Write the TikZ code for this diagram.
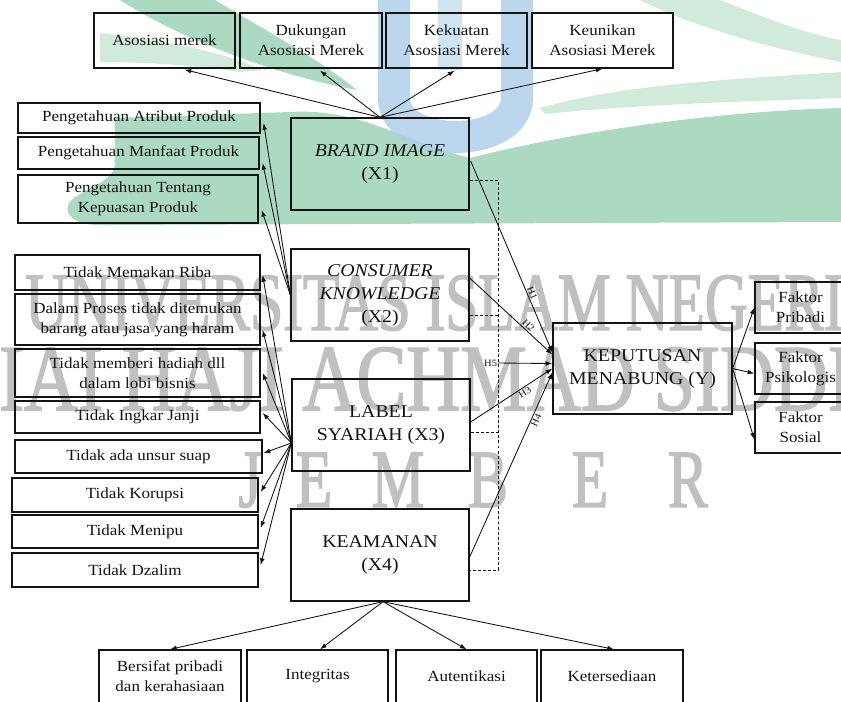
\documentclass[tikz,border=0pt]{standalone}
\usepackage{fontspec}
\setmainfont{Liberation Serif}[FakeStretch=1.1]
\newfontfamily\wmA{Liberation Serif}[FakeStretch=0.72,FakeBold=1.6]
\newfontfamily\wmB{Liberation Serif}[FakeStretch=0.79,FakeBold=1.6]
\usetikzlibrary{calc,arrows.meta}
\definecolor{wmgray}{RGB}{192,192,192}
\definecolor{lgreen}{RGB}{172,217,193}
\definecolor{lgreen2}{RGB}{208,234,219}
\definecolor{lblue}{RGB}{172,206,233}
\definecolor{ink}{RGB}{20,20,20}
\begin{document}
\begin{tikzpicture}[x=0.75pt,y=-0.75pt,
  box/.style={draw=ink, line width=1pt, inner sep=0pt, align=center, text=ink,
    font=\fontsize{11.6pt}{15pt}\selectfont},
  tbox/.style={box, font=\fontsize{13.5pt}{17.25pt}\selectfont},
  wh/.style 2 args={minimum width=#1*0.75pt, minimum height=#2*0.75pt},
  arr/.style={draw=ink, line width=0.65pt, -{Latex[length=5pt,width=3.6pt]}},
  dsh/.style={draw=ink, line width=0.75pt, dash pattern=on 2.2pt off 1.6pt},
  hl/.style={font=\fontsize{7.2pt}{8pt}\selectfont, text=ink, inner sep=1pt},
  wm/.style={text=wmgray, inner sep=0pt}
]
\useasboundingbox (0,0) rectangle (841,701);
\clip (0,0) rectangle (841,701);
\fill[white] (0,0) rectangle (841,701);

% ---- watermark logo (approximate) ----
\fill[lgreen2] (100,33) .. controls (160,40) and (220,50) .. (262,70) -- (240,72) .. controls (190,64) and (130,62) .. (100,62) -- cycle;
\fill[lgreen] (120,0) -- (215,0) .. controls (265,30) and (320,60) .. (357,90) .. controls (290,78) and (190,45) .. (120,0) -- cycle;
\fill[lgreen2] (640,0) -- (720,0) .. controls (770,20) and (810,35) .. (841,40) -- (841,62) .. controls (780,50) and (700,30) .. (640,0) -- cycle;
\fill[lgreen2] (540,108) .. controls (620,85) and (720,80) .. (841,72) -- (841,98) .. controls (720,102) and (620,106) .. (545,114) -- cycle;
\fill[lgreen] (115,118) -- (290,112) .. controls (360,108) and (400,140) .. (470,158)
  .. controls (560,135) and (700,112) .. (841,108) -- (841,222) -- (100,225)
  .. controls (75,225) and (65,215) .. (68,205) .. controls (75,190) and (112,185) .. (115,165) -- cycle;
\draw[lblue, opacity=0.8, line width=24pt] (394,0) -- (394,98) .. controls (394,150) and (517,150) .. (517,98) -- (517,0);
\draw[lblue, opacity=0.55, line width=18pt] (450,0) -- (450,70);

% ---- watermark text ----
\node[wm, anchor=base west, font=\wmA\fontsize{62pt}{62pt}\selectfont] (wmrow1) at (25,330) {UNIVERSITAS ISLAM NEGERI};
\node[wm, anchor=base west, font=\wmB\fontsize{71pt}{71pt}\selectfont] (wmrow2) at (-55,410) {KIAI HAJI ACHMAD SIDDIQ};
\begin{scope}[every node/.style={wm, anchor=base, font=\wmA\fontsize{62pt}{62pt}\selectfont}]
\node (wmj) at (250,507) {J};
\node (wme) at (314,507) {E};
\node (wmm) at (398,507) {M};
\node (wmb) at (488,507) {B};
\node (wme2) at (590,507) {E};
\node (wmr) at (688,507) {R};
\end{scope}

% ---- top boxes ----
\node[box,wh={141}{55}] (am) at (164.5,40.5) {Asosiasi merek};
\node[box,wh={142}{55}] (dam) at (311,40.5) {Dukungan\\Asosiasi Merek};
\node[box,wh={141}{55}] (kam) at (456.5,40.5) {Kekuatan\\Asosiasi Merek};
\node[box,wh={141}{55}] (uam) at (602.5,40.5) {Keunikan\\Asosiasi Merek};

% ---- main variable boxes ----
\node[tbox,wh={178}{92}] (BI) at (380,164) {\textit{BRAND IMAGE}\\(X1)};
\node[tbox,wh={178}{92}] (CK) at (380,295) {\textit{CONSUMER}\\\textit{KNOWLEDGE}\\(X2)};
\node[tbox,wh={178}{92}] (LS) at (381,425) {LABEL\\SYARIAH (X3)};
\node[tbox,wh={178}{92}] (KE) at (380,555) {KEAMANAN\\(X4)};
\node[tbox,wh={179}{91}] (KM) at (642.5,368.5) {KEPUTUSAN\\MENABUNG (Y)};

% ---- consumer knowledge indicators ----
\node[box,wh={242}{30}] (pap) at (139,118) {Pengetahuan Atribut Produk};
\node[box,wh={241}{32}] (pmp) at (138.5,153) {Pengetahuan Manfaat Produk};
\node[box,wh={240}{48}] (ptk) at (138,199) {Pengetahuan Tentang\\Kepuasan Produk};

% ---- label syariah indicators ----
\node[box,wh={245}{35}] (riba) at (137.5,272.5) {Tidak Memakan Riba};
\node[box,wh={245}{51}] (dpt) at (137.5,319.5) {Dalam Proses tidak ditemukan\\barang atau jasa yang haram};
\node[box,wh={245}{48}] (hdh) at (137.5,373) {Tidak memberi hadiah dll\\dalam lobi bisnis};
\node[box,wh={245}{32}] (ijj) at (137.5,417) {Tidak Ingkar Janji};
\node[box,wh={247}{33}] (sap) at (138.5,456.5) {Tidak ada unsur suap};
\node[box,wh={246}{34}] (krp) at (135,495) {Tidak Korupsi};
\node[box,wh={246}{33}] (mnp) at (135,531.5) {Tidak Menipu};
\node[box,wh={246}{34}] (dzl) at (135,570) {Tidak Dzalim};

% ---- keputusan indicators ----
\node[box,wh={91}{51}] (fp) at (800.5,307.5) {Faktor\\Pribadi};
\node[box,wh={91}{51}] (fps) at (800.5,368.5) {Faktor\\Psikologis};
\node[box,wh={91}{51}] (fs) at (800.5,427.5) {Faktor\\Sosial};

% ---- keamanan indicators ----
\node[box,wh={142}{53}] (bp) at (170,676.5) {Bersifat pribadi\\dan kerahasiaan};
\node[box,wh={141}{53}] (itg) at (317.5,676.5) {Integritas};
\node[box,wh={141}{53}] (aut) at (466.5,676.5) {Autentikasi};
\node[box,wh={142}{53}] (kts) at (612,676.5) {Ketersediaan};

% ---- arrows: brand image ----
\draw[arr] (BI.north) -- ($(am.south)+(20,1)$);
\draw[arr] (BI.north) -- ($(dam.south)+(9,2)$);
\draw[arr] (BI.north) -- ($(kam.south)+(-2,2)$);
\draw[arr] (BI.north) -- (uam.south);

% ---- arrows: consumer knowledge ----
\draw[arr] (CK.west) -- ($(pap.east)+(3,5)$);
\draw[arr] (CK.west) -- ($(pmp.east)+(3,10)$);
\draw[arr] (CK.west) -- ($(ptk.east)+(3,11)$);

% ---- arrows: label syariah ----
\coordinate (lso) at ($(LS.west)+(0,18)$);
\draw[arr] (lso) -- ($(riba.east)+(2,2.5)$);
\draw[arr] (lso) -- ($(dpt.east)+(2,10.5)$);
\draw[arr] (lso) -- ($(hdh.east)+(2,0)$);
\draw[arr] (lso) -- ($(ijj.east)+(2,-4)$);
\draw[arr] (lso) -- ($(sap.east)+(1,-3.5)$);
\draw[arr] (lso) -- ($(krp.east)+(2,-3)$);
\draw[arr] (lso) -- ($(mnp.east)+(2,-3.5)$);
\draw[arr] (lso) -- ($(dzl.east)+(2,-5)$);

% ---- arrows: keamanan ----
\draw[arr] ($(KE.south)+(3,0)$) -- (bp.north);
\draw[arr] ($(KE.south)+(3,0)$) -- ($(itg.north)+(2.5,0)$);
\draw[arr] ($(KE.south)+(3,0)$) -- (aut.north);
\draw[arr] ($(KE.south)+(3,0)$) -- ($(kts.north)+(2,0)$);

% ---- arrows: keputusan ----
\draw[arr] (KM.east) -- (fp.west);
\draw[arr] (KM.east) -- ($(fps.west)+(0,5)$);
\draw[arr] (KM.east) -- ($(fs.west)+(0,12)$);

% ---- hypotheses ----
\draw[arr] ($(BI.east)+(1,-3)$) -- node[hl, sloped, above, pos=0.70] {H1} ($(KM.west)+(0,-16)$);
\draw[arr] ($(CK.east)+(0,-17)$) -- node[hl, sloped, above, pos=0.67] {H2} ($(KM.west)+(0,-14)$);
\draw[arr] ($(LS.east)+(0,-3)$) -- node[hl, sloped, below, pos=0.63] {H3} (KM.west);
\draw[arr] ($(KE.east)+(0,2)$) -- node[hl, sloped, below, pos=0.75] {H4} ($(KM.west)+(0,4)$);

% ---- moderation (dashed) ----
\coordinate (dtop) at (498,180);
\coordinate (dbot) at (498,570);
\coordinate (ckd) at ($(CK.east)+(0,20)$);
\coordinate (lsd) at ($(LS.east)+(0,7)$);
\draw[dsh] ($(BI.east)+(0,16)$) -- (dtop) -- (dbot) -- ($(KE.east)+(0,15)$);
\draw[dsh] (ckd) -- (ckd -| dtop);
\draw[dsh] (lsd) -- (lsd -| dtop);
\coordinate (h5s) at (498,363);
\draw[arr] (h5s) -- ($(KM.west)+(0,-5)$);
\node[hl, left, inner sep=0.5pt] (h5) at (h5s) {H5};
\end{tikzpicture}
\end{document}
